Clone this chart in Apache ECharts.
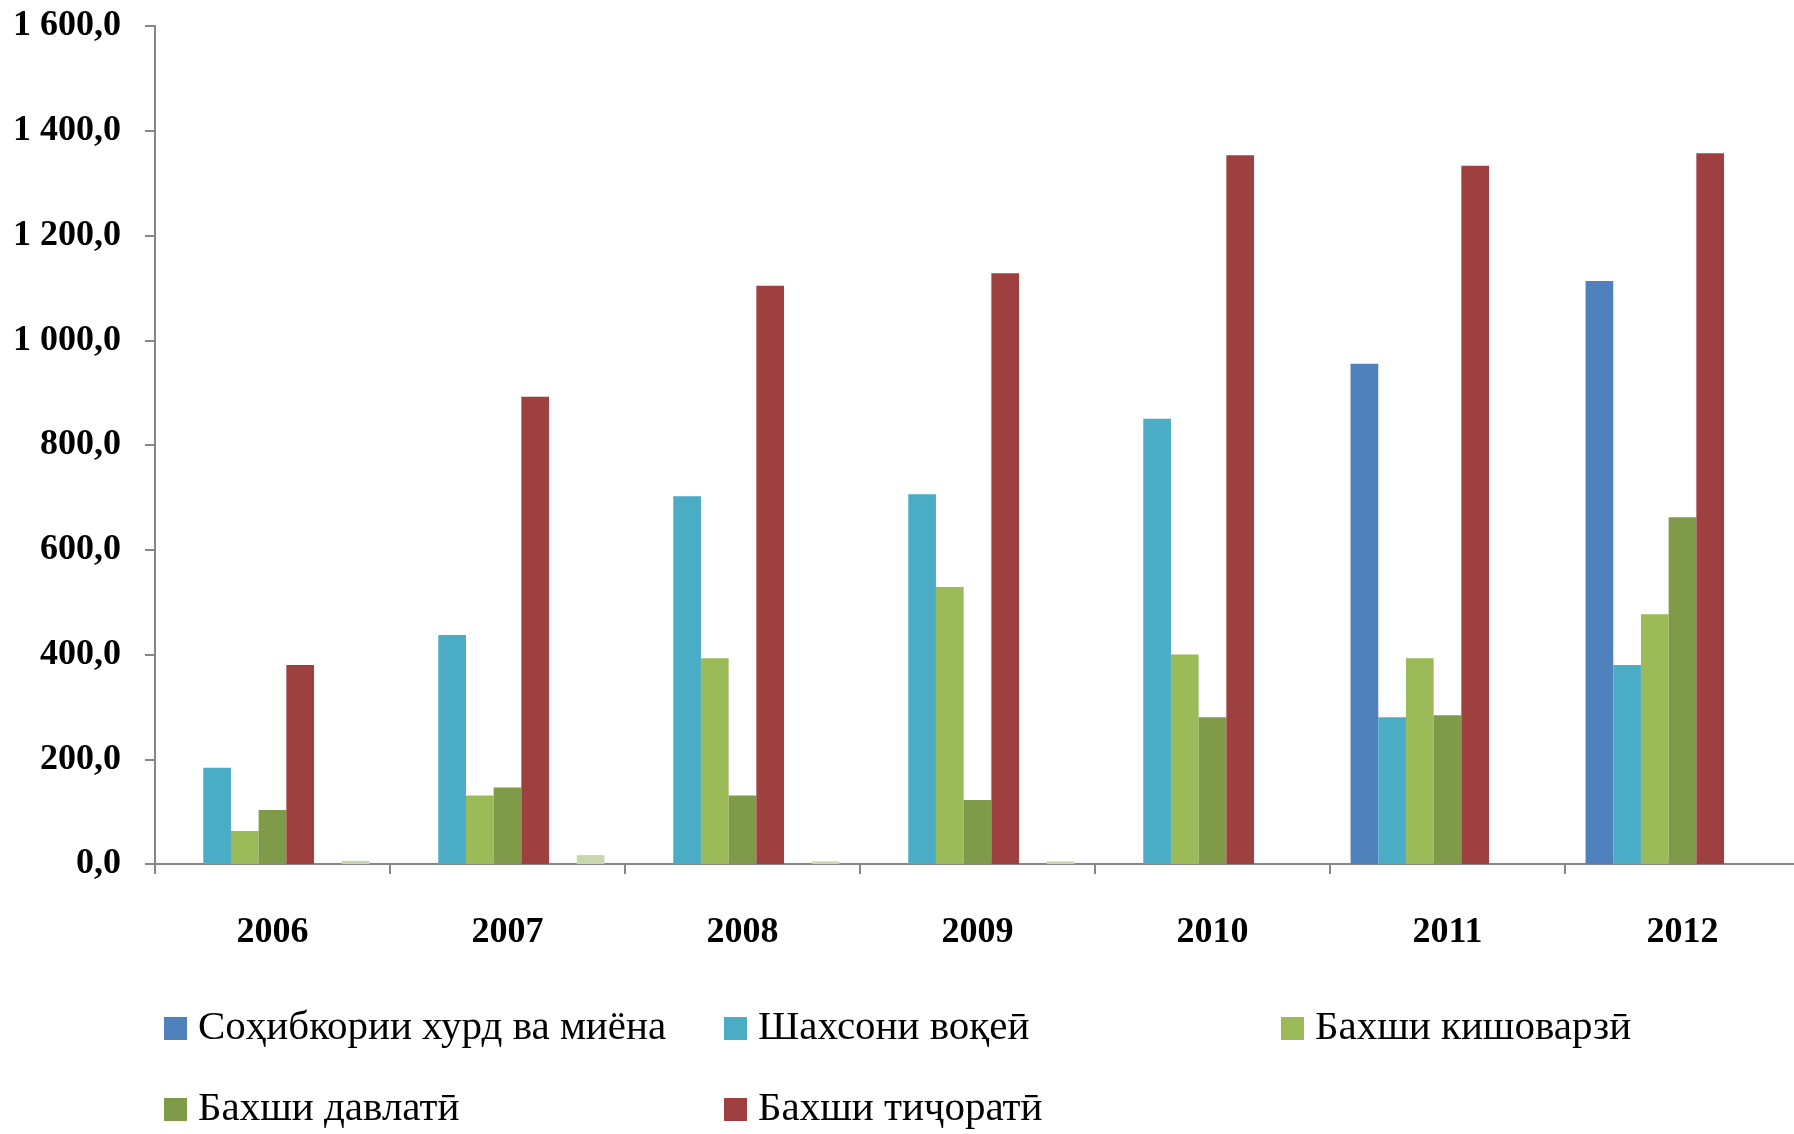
<!DOCTYPE html>
<html>
<head>
<meta charset="utf-8">
<script src="https://cdn.jsdelivr.net/npm/echarts@6/dist/echarts.min.js"></script>
<style>
html,body{margin:0;padding:0;background:#fff;}
#c{width:1794px;height:1134px;}
</style>
</head>
<body>
<div id="c"></div>
<script>
var years = ['2006','2007','2008','2009','2010','2011','2012'];
var seriesNames = ['Соҳибкории хурд ва миёна','Шахсони воқеӣ','Бахши кишоварзӣ','Бахши давлатӣ','Бахши тиҷоратӣ'];
var smallMedium = [null, null, null, null, null, 955, 1113];
var individuals = [184, 437, 702, 706, 850, 280, 380];
var agriculture = [63, 131, 393, 529, 400, 393, 477];
var stateSector = [103, 146, 131, 122, 280, 284, 662];
var commercial = [380, 892, 1104, 1128, 1353, 1333, 1357];
var emptySeries = [null, null, null, null, null, null, null];
var otherSeries = [6, 17, 5, 5, null, null, null];
var colors = ['#4f81bd','#4bacc6','#9bbb59','#7f9a48','#9e4040'];

function fmt(v){
  var s = Math.round(v).toString();
  s = s.replace(/\B(?=(\d{3})+(?!\d))/g, ' ');
  return s + ',0';
}

var chart = echarts.init(document.getElementById('c'));
var dataArr = [smallMedium, individuals, agriculture, stateSector, commercial];
var gap = '17.5%';
var series = dataArr.map(function(d, i){
  return {name: seriesNames[i], type:'bar', data:d, itemStyle:{color:colors[i]}, barGap:'0%', barCategoryGap:gap};
});
series.push({name:'_empty', type:'bar', data:emptySeries, barGap:'0%', barCategoryGap:gap});
series.push({name:'_other', type:'bar', data:otherSeries, itemStyle:{color:'#c8d8ac'}, barGap:'0%', barCategoryGap:gap});

var legendPos = [[164,1008],[724,1008],[1281,1008],[164,1089],[724,1089]];
var legends = seriesNames.map(function(n, i){
  return {
    data:[n], left:legendPos[i][0], top:legendPos[i][1], padding:0,
    itemWidth:23, itemHeight:23, itemGap:0, icon:'rect',
    textStyle:{fontFamily:'Liberation Serif', fontSize:41, color:'#000', padding:[0,0,0,6]},
    selectedMode:false
  };
});

chart.setOption({
  animation:false,
  backgroundColor:'#fff',
  legend: legends,
  grid:{left:155, top:26, width:1645, height:838, outerBoundsMode:'none', containLabel:false},
  xAxis:{
    type:'category', data:years,
    axisLine:{lineStyle:{color:'#868686', width:2}},
    axisTick:{show:true, length:10, lineStyle:{color:'#868686', width:2}},
    axisLabel:{fontFamily:'Liberation Serif', fontWeight:'bold', fontSize:36, color:'#000', margin:51}
  },
  yAxis:{
    type:'value', min:0, max:1600, interval:200,
    axisLine:{show:true, lineStyle:{color:'#868686', width:2}},
    axisTick:{show:true, length:10, lineStyle:{color:'#868686', width:2}},
    splitLine:{show:false},
    axisLabel:{fontFamily:'Liberation Serif', fontWeight:'bold', fontSize:36, color:'#000', margin:34, formatter:fmt}
  },
  series: series
});
</script>
</body>
</html>
